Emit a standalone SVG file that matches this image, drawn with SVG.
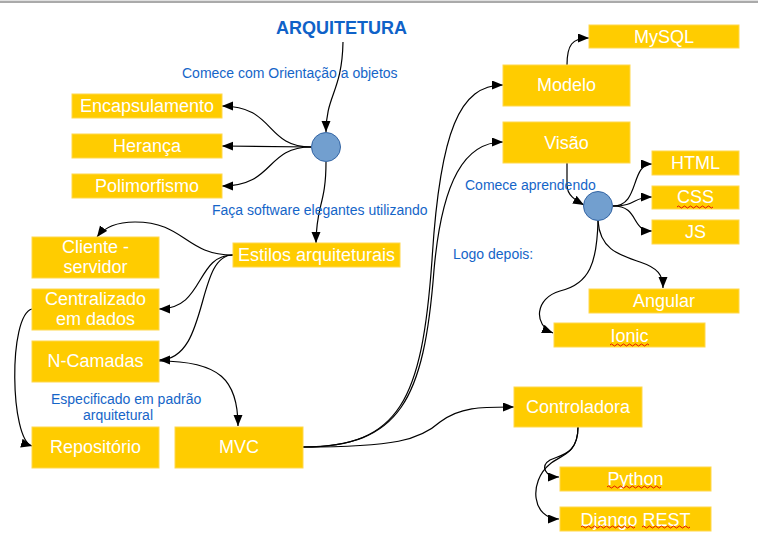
<svg xmlns="http://www.w3.org/2000/svg" width="758" height="551" viewBox="0 0 758 551">
<defs>
<marker id="arr" markerUnits="userSpaceOnUse" markerWidth="12" markerHeight="10" refX="11" refY="4.5" orient="auto">
<path d="M0,0 L11,4.5 L0,9 z" fill="#000"/>
</marker>
<style>
.box{fill:#ffcc00;stroke:#ffd84d;stroke-width:1}
.bt{font-family:"Liberation Sans",Arial,sans-serif;font-size:18px;fill:#fff;text-anchor:middle}
.lbl{font-family:"Liberation Sans",Arial,sans-serif;font-size:14px;fill:#1565c8}
.title{font-family:"Liberation Sans",Arial,sans-serif;font-size:18px;font-weight:bold;fill:#0f62c8;text-anchor:middle}
.hub{fill:#729fcf;stroke:#3465a4;stroke-width:1}
.c{fill:none;stroke:#000;stroke-width:1.2;marker-end:url(#arr)}
.sq{fill:none;stroke:#e00000;stroke-width:0.9}
</style>
</defs>
<rect x="0" y="0" width="758" height="1" fill="#e0e0e0"/>
<rect x="0" y="1" width="758" height="2" fill="#aaaaaa"/>

<g id="connectors">
<path class="c" d="M343,42 C342,92 326,95 326,132"/>
<path class="c" d="M311,147 C265,147 275,106 222,106"/>
<path class="c" d="M311,147 L222,146"/>
<path class="c" d="M311,147 C265,147 275,186 222,186"/>
<path class="c" d="M326,162 C326,205 316,205 316,243"/>
<path class="c" d="M233,255 C185,255 185,222 135,222 C115,222 103,229 97,237"/>
<path class="c" d="M233,255 C195,255 205,309 159,309"/>
<path class="c" d="M233,255 C195,255 210,360 159,360"/>
<path class="c" d="M159,361 C220,361 238,380 238,426"/>
<path class="c" d="M32,309 C8,315 10,440 32,446"/>
<path class="c" d="M303,447 C400,447 422,400 432,260 C440,130 460,85 503,85"/>
<path class="c" d="M303,447 C400,447 424,400 434,270 C442,180 465,142 503,142"/>
<path class="c" d="M303,447 C395,447 420,440 440,422 C460,407 480,407 514,407"/>
<path class="c" d="M567,65 C567,45 572,38 589,38"/>
<path class="c" d="M567,163 L567,185 C567,195 575,200 584,205"/>
<path class="c" d="M613,206 C640,206 630,164 652,164"/>
<path class="c" d="M613,206 C637,206 632,197 652,197"/>
<path class="c" d="M613,206 C640,206 630,231 652,231"/>
<path class="c" d="M598,221 C600,250 620,255 640,262 C658,268 663,275 663,288"/>
<path class="c" d="M598,221 C597,262 590,284 560,291 C535,298 533,325 553,333"/>
<path class="c" d="M578,427 C578,455 560,455 550,460 C540,466 545,477 559,477"/>
<path class="c" d="M578,427 C578,455 560,455 550,464 C528,482 532,519 559,519"/>
</g>

<text class="title" x="341.5" y="34">ARQUITETURA</text>
<text class="lbl" x="182" y="78">Comece com Orientação a objetos</text>
<text class="lbl" x="212" y="215">Faça software elegantes utilizando</text>
<text class="lbl" x="465" y="190">Comece aprendendo</text>
<text class="lbl" x="453" y="259">Logo depois:</text>
<text class="lbl" x="51" y="404">Especificado em padrão</text>
<text class="lbl" x="118" y="419.5" text-anchor="middle">arquitetural</text>

<g id="hub1"><circle class="hub" cx="326" cy="147" r="14.5"/></g>
<g id="hub2"><circle class="hub" cx="598" cy="206" r="14.5"/></g>

<g id="encapsulamento"><rect class="box" x="72" y="94" width="150" height="24"/><text class="bt" x="147" y="112">Encapsulamento</text></g>
<g id="heranca"><rect class="box" x="72" y="134" width="150" height="24"/><text class="bt" x="147" y="152">Herança</text></g>
<g id="polimorfismo"><rect class="box" x="72" y="174" width="150" height="24"/><text class="bt" x="147" y="192">Polimorfismo</text></g>
<g id="cliente"><rect class="box" x="32" y="237" width="127" height="41"/><text class="bt" x="95.5" y="253">Cliente -</text><text class="bt" x="95.5" y="273">servidor</text></g>
<g id="centralizado"><rect class="box" x="32" y="289" width="127" height="41"/><text class="bt" x="95.5" y="305">Centralizado</text><text class="bt" x="95.5" y="325">em dados</text></g>
<g id="ncamadas"><rect class="box" x="32" y="341" width="127" height="41"/><text class="bt" x="95.5" y="367">N-Camadas</text></g>
<g id="repositorio"><rect class="box" x="32" y="427" width="127" height="41"/><text class="bt" x="95.5" y="453">Repositório</text></g>
<g id="mvc"><rect class="box" x="175" y="427" width="128" height="41"/><text class="bt" x="239" y="453">MVC</text></g>
<g id="estilos"><rect class="box" x="233" y="243" width="167" height="24"/><text class="bt" x="316.5" y="261">Estilos arquiteturais</text></g>
<g id="mysql"><rect class="box" x="589" y="25" width="150" height="23"/><text class="bt" x="664" y="43">MySQL</text></g>
<g id="modelo"><rect class="box" x="503" y="65" width="127" height="41"/><text class="bt" x="566.5" y="91">Modelo</text></g>
<g id="visao"><rect class="box" x="503" y="122" width="127" height="41"/><text class="bt" x="566.5" y="149">Visão</text></g>
<g id="html"><rect class="box" x="652" y="151" width="87" height="24"/><text class="bt" x="695.5" y="169">HTML</text></g>
<g id="css"><rect class="box" x="652" y="186" width="87" height="23"/><text class="bt" x="695.5" y="203">CSS</text><path class="sq" d="M677,207 q1.5,-2 3,0 t3,0 t3,0 t3,0 t3,0 t3,0 t3,0 t3,0 t3,0 t3,0 t3,0 t3,0"/></g>
<g id="js"><rect class="box" x="652" y="220" width="87" height="24"/><text class="bt" x="695.5" y="238">JS</text></g>
<g id="angular"><rect class="box" x="589" y="289" width="150" height="24"/><text class="bt" x="664" y="307">Angular</text></g>
<g id="ionic"><rect class="box" x="554" y="323" width="151" height="24"/><text class="bt" x="629.5" y="342">Ionic</text><path class="sq" d="M610,345 q1.5,-2 3,0 t3,0 t3,0 t3,0 t3,0 t3,0 t3,0 t3,0 t3,0 t3,0 t3,0 t3,0 t3,0"/></g>
<g id="controladora"><rect class="box" x="514" y="387" width="128" height="40"/><text class="bt" x="578" y="413">Controladora</text></g>
<g id="python"><rect class="box" x="560" y="467" width="151" height="24"/><text class="bt" x="635.5" y="485">Python</text><path class="sq" d="M607,487 q1.5,-2 3,0 t3,0 t3,0 t3,0 t3,0 t3,0 t3,0 t3,0 t3,0 t3,0 t3,0 t3,0 t3,0 t3,0 t3,0 t3,0 t3,0 t3,0"/></g>
<g id="django"><rect class="box" x="560" y="507" width="151" height="24"/><text class="bt" x="635.5" y="526">Django REST</text><path class="sq" d="M581,527 q1.5,-2 3,0 t3,0 t3,0 t3,0 t3,0 t3,0 t3,0 t3,0 t3,0 t3,0 t3,0 t3,0 t3,0 t3,0 t3,0 t3,0 t3,0 t3,0"/><path class="sq" d="M642,527 q1.5,-2 3,0 t3,0 t3,0 t3,0 t3,0 t3,0 t3,0 t3,0 t3,0 t3,0 t3,0 t3,0 t3,0 t3,0 t3,0 t3,0"/></g>
</svg>
